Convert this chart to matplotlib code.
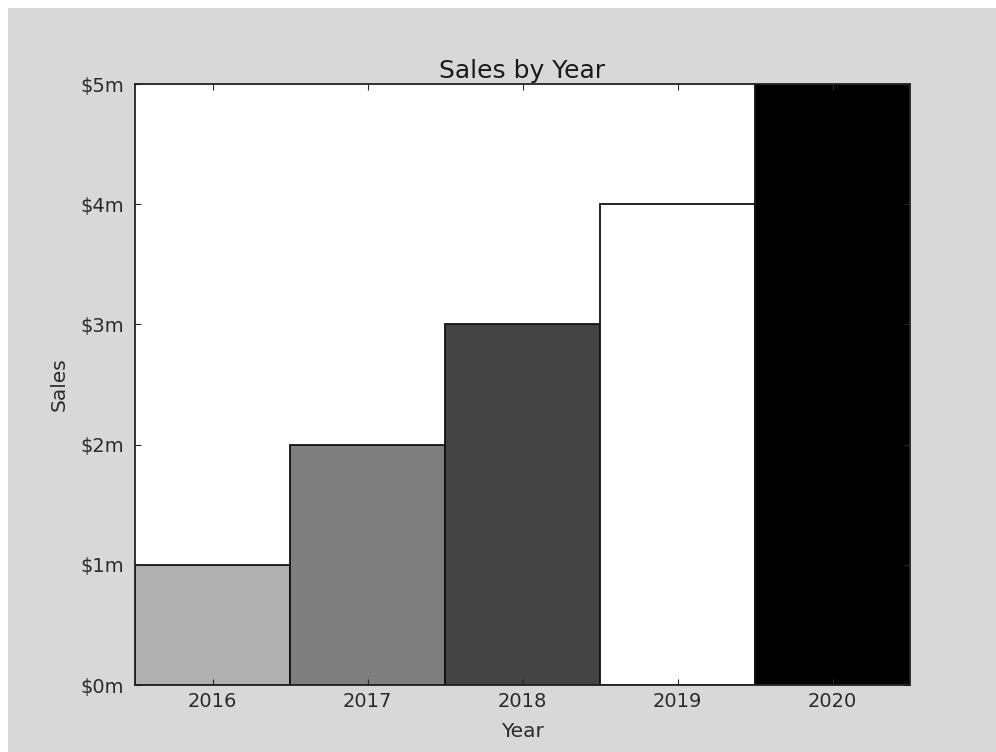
import matplotlib
matplotlib.use("Agg")
import matplotlib.pyplot as plt
from matplotlib.patches import Rectangle
from matplotlib.ticker import FuncFormatter

years = ["2016", "2017", "2018", "2019", "2020"]
sales = [1e6, 2e6, 3e6, 4e6, 5e6]
colors = ["#b0b0b0", "#7f7f7f", "#444444", "#ffffff", "#000000"]

fig = plt.figure(figsize=(9.96, 7.52), dpi=100, facecolor="white")
fig.patches.append(Rectangle((8/996, 0), 1 - 8/996, 1 - 8/752, transform=fig.transFigure,
                             facecolor="#d8d8d8", edgecolor="none", zorder=-10))
ax = fig.add_axes([135/996, 1 - 685/752, (910 - 135)/996, (685 - 84)/752])
x = list(range(len(years)))
ax.bar(x, sales, width=1.0, color=colors, edgecolor="#111111", linewidth=1.3)
ax.set_xlim(-0.5, 4.5)
ax.set_ylim(0, 5e6)
ax.set_xticks(x)
ax.set_xticklabels(years)
ax.set_yticks([0, 1e6, 2e6, 3e6, 4e6, 5e6])
ax.yaxis.set_major_formatter(FuncFormatter(lambda v, p: f"${v/1e6:.0f}m"))
ax.tick_params(direction="in", top=True, right=True, length=4, labelsize=14, colors="#2a2a2a")
ax.tick_params(axis="x", pad=5)
ax.tick_params(axis="y", pad=8)
for s in ax.spines.values():
    s.set_linewidth(1.3)
    s.set_color("#222222")
ax.set_title("Sales by Year", fontsize=18, color="#1a1a1a", pad=4)
ax.set_xlabel("Year", fontsize=14.5, color="#2a2a2a", labelpad=8)
ax.set_ylabel("Sales", fontsize=14.5, color="#2a2a2a", labelpad=8)
fig.savefig("out.png", dpi=100, facecolor=fig.get_facecolor())
